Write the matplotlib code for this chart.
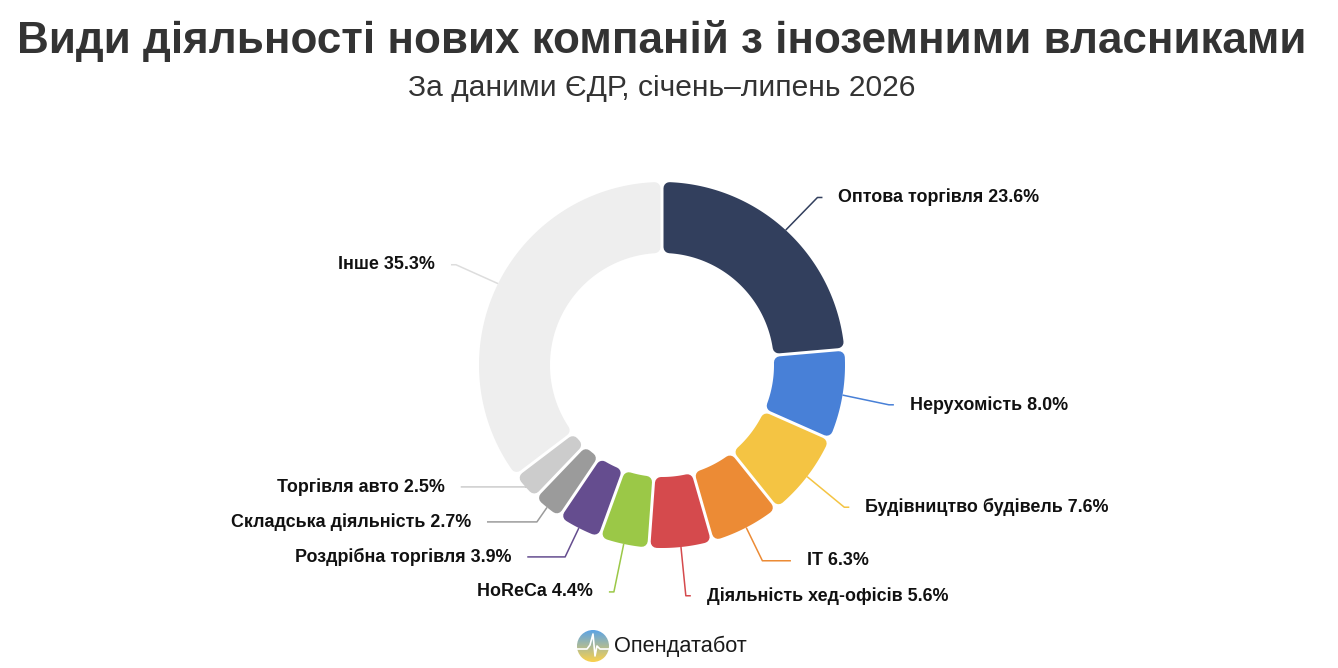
import numpy as np
import matplotlib.pyplot as plt
from matplotlib.patches import Polygon, Circle

# data
categories = ['Оптова торгівля', 'Нерухомість', 'Будівництво будівель', 'IT',
              'Діяльність хед-офісів', 'HoReCa', 'Роздрібна торгівля',
              'Складська діяльність', 'Торгівля авто', 'Інше']
shares = [23.6, 8.0, 7.6, 6.3, 5.6, 4.4, 3.9, 2.7, 2.5, 35.3]
colors = ['#323f5d', '#4880d7', '#f4c443', '#ec8b35', '#d54a4d',
          '#9bc847', '#654d8f', '#9b9b9b', '#cccccc', '#eeeeee']
line_colors = colors[:-1] + ['#dddddd']

title = 'Види діяльності нових компаній з іноземними власниками'
subtitle = 'За даними ЄДР, січень–липень 2026'
brand = 'Опендатабот'

W, H = 1338, 668
CX, CY = 662, 365
R_OUT, R_IN = 183, 112
CORNER = 6
GAP = 3
R_LABEL = 230
MIN_SPACE = 35
Y_SHIFT = 2


def pt(r, a):
    # angle in degrees, clockwise from top, y axis pointing down
    t = np.radians(a)
    return CX + r * np.sin(t), CY - r * np.cos(t)


def rounded_wedge(ax, a0, a1, color):
    d = GAP / 2 + CORNER
    ro, ri = R_OUT - CORNER, R_IN + CORNER
    o0 = a0 + np.degrees(np.arcsin(d / ro))
    o1 = a1 - np.degrees(np.arcsin(d / ro))
    i0 = a0 + np.degrees(np.arcsin(d / ri))
    i1 = a1 - np.degrees(np.arcsin(d / ri))
    outer = [pt(ro, a) for a in np.linspace(o0, o1, 120)]
    inner = [pt(ri, a) for a in np.linspace(i1, i0, 120)]
    poly = Polygon(outer + inner, closed=True, facecolor=color, edgecolor=color,
                   linewidth=2 * CORNER * 0.72, joinstyle='round')
    ax.add_patch(poly)


fig = plt.figure(figsize=(W / 100, H / 100), dpi=100)
ax = fig.add_axes([0, 0, 1, 1])
ax.set_xlim(0, W)
ax.set_ylim(H, 0)
ax.axis('off')

bounds = np.concatenate([[0], np.cumsum(shares)]) / sum(shares) * 360
mids = (bounds[:-1] + bounds[1:]) / 2

for i in range(len(shares)):
    rounded_wedge(ax, bounds[i], bounds[i + 1], colors[i])

# label positions with simple overlap push (like highcharts)
label_y = np.array([pt(R_LABEL, m)[1] for m in mids])
right = [i for i in range(len(mids)) if mids[i] < 180]
left = [i for i in range(len(mids)) if mids[i] >= 180]
for side in (right, left):
    order = sorted(side, key=lambda i: -label_y[i])
    for k in range(1, len(order)):
        prev, cur = order[k - 1], order[k]
        if label_y[prev] - label_y[cur] < MIN_SPACE:
            label_y[cur] = label_y[prev] - MIN_SPACE

for i, m in enumerate(mids):
    x0, y0 = pt(R_OUT, m)
    dy = label_y[i] - CY
    t = np.radians(m)
    ex = CX - dy * np.tan(t)
    sgn = 1 if m < 180 else -1
    cx = CX + sgn * np.sqrt(max(R_LABEL ** 2 - dy ** 2, 0))
    y = label_y[i] + Y_SHIFT
    ax.plot([x0, ex, cx + sgn * 5], [y0, y, y], color=line_colors[i], lw=1.1,
            solid_capstyle='butt')
    ax.text(cx + sgn * 21, y, f'{categories[i]} {shares[i]:.1f}%',
            ha='left' if sgn > 0 else 'right', va='center', fontsize=12.9,
            fontweight='bold', color='#111111', family='Liberation Sans')

fig.text(662 / W, 1 - 41 / H, title, ha='center', va='center', fontsize=31.7,
         fontweight='bold', color='#333333', family='Liberation Sans')
fig.text(662 / W, 1 - 88 / H, subtitle, ha='center', va='center', fontsize=21.6,
         color='#333333', family='Liberation Sans')

# brand logo
lx, ly, lr = 593, 646, 16
grad = np.linspace(0, 1, 100)[:, None] * np.ones((1, 100))
top = np.array([0.36, 0.64, 0.90])
bot = np.array([0.98, 0.82, 0.30])
img = top[None, None, :] * (1 - grad[..., None]) + bot[None, None, :] * grad[..., None]
im = ax.imshow(img, extent=[lx - lr, lx + lr, ly + lr, ly - lr], zorder=3)
im.set_clip_path(Circle((lx, ly), lr, transform=ax.transData))
hx = lx + np.array([-lr, -6, -3, 0, 2, 4, 7, lr])
hy = ly + np.array([3, 3, -1, -12, 10, 0, 3, 3])
ax.plot(hx, hy, color='white', lw=1.2, zorder=4)
ax.text(614, 646, brand, ha='left', va='center', fontsize=15.7,
        color='#1a1a1a', family='Liberation Sans')
ax.set_xlim(0, W)
ax.set_ylim(H, 0)

fig.savefig('out.png', dpi=100, facecolor='white')
